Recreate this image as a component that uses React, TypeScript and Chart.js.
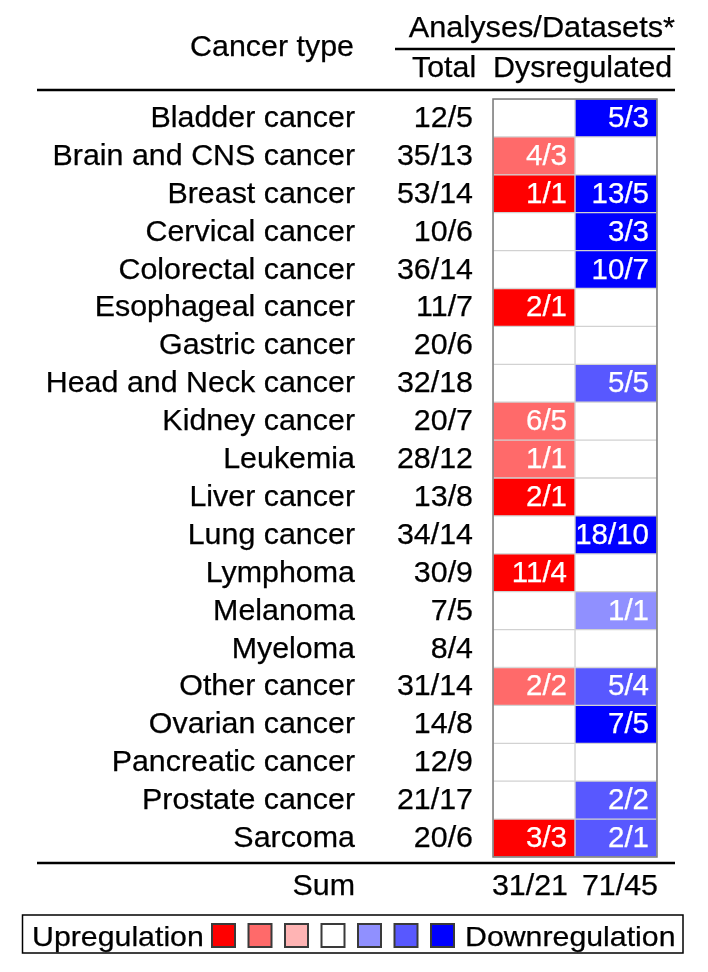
import React, { useEffect, useRef } from "react";
import { Chart, registerables } from "chart.js";

Chart.register(...registerables);

const cancerTypes = [
  "Bladder cancer",
  "Brain and CNS cancer",
  "Breast cancer",
  "Cervical cancer",
  "Colorectal cancer",
  "Esophageal cancer",
  "Gastric cancer",
  "Head and Neck cancer",
  "Kidney cancer",
  "Leukemia",
  "Liver cancer",
  "Lung cancer",
  "Lymphoma",
  "Melanoma",
  "Myeloma",
  "Other cancer",
  "Ovarian cancer",
  "Pancreatic cancer",
  "Prostate cancer",
  "Sarcoma",
];

const totals = [
  "12/5", "35/13", "53/14", "10/6", "36/14", "11/7", "20/6", "32/18", "20/7", "28/12",
  "13/8", "34/14", "30/9", "7/5", "8/4", "31/14", "14/8", "12/9", "21/17", "20/6",
];

const upLabels = [
  "", "4/3", "1/1", "", "", "2/1", "", "", "6/5", "1/1",
  "2/1", "", "11/4", "", "", "2/2", "", "", "", "3/3",
];
const upLevels = [0, 2, 3, 0, 0, 3, 0, 0, 2, 2, 3, 0, 3, 0, 0, 2, 0, 0, 0, 3];

const downLabels = [
  "5/3", "", "13/5", "3/3", "10/7", "", "", "5/5", "", "",
  "", "18/10", "", "1/1", "", "5/4", "7/5", "", "2/2", "2/1",
];
const downLevels = [3, 0, 3, 3, 3, 0, 0, 2, 0, 0, 0, 3, 0, 1, 0, 2, 3, 0, 2, 2];

const columnCells = [1, 1]; // each column occupies one unit
const sumLabels = ["31/21", "71/45"];

const upColors = ["#ffffff", "#ffb4b4", "#ff6a6a", "#ff0000"];
const downColors = ["#ffffff", "#9090ff", "#5858ff", "#0000ff"];
const legendColors = ["#ff0000", "#ff6a6a", "#ffb4b4", "#ffffff", "#9090ff", "#5858ff", "#0000ff"];

const FONT = '"Liberation Sans", Arial, Helvetica, sans-serif';

const tablePlugin = {
  id: "tableText",
  afterDatasetsDraw(chart: any) {
    const { ctx, chartArea: ca, scales } = chart;
    const ys = scales.y;
    const xs = scales.x;

    const txt = (
      s: string,
      x: number,
      yb: number,
      size: number,
      align: CanvasTextAlign,
      color = "#000",
      wEq = 30.4
    ) => {
      ctx.save();
      ctx.font = `${size}px ${FONT}`;
      ctx.fillStyle = color;
      ctx.strokeStyle = color;
      ctx.lineWidth = 0.25;
      ctx.textAlign = align;
      ctx.textBaseline = "alphabetic";
      ctx.translate(x, yb);
      ctx.scale(wEq / size, 1);
      ctx.fillText(s, 0, 0);
      ctx.strokeText(s, 0, 0);
      ctx.restore();
    };

    const hline = (x1: number, x2: number, y: number, w = 2.5) => {
      ctx.save();
      ctx.strokeStyle = "#000";
      ctx.lineWidth = w;
      ctx.beginPath();
      ctx.moveTo(x1, y);
      ctx.lineTo(x2, y);
      ctx.stroke();
      ctx.restore();
    };

    // outer border of heatmap
    ctx.save();
    ctx.strokeStyle = "#7a7a7a";
    ctx.lineWidth = 1.5;
    ctx.strokeRect(ca.left, ca.top, ca.right - ca.left, ca.bottom - ca.top);
    ctx.restore();

    const FS = 29;

    // cell labels
    chart.data.datasets.forEach((ds: any, di: number) => {
      const meta = chart.getDatasetMeta(di);
      meta.data.forEach((bar: any, i: number) => {
        const s = ds.cellLabels[i];
        if (!s) return;
        const p = bar.getProps(["x", "y", "base"], true);
        txt(s, Math.max(p.x, p.base) - 8, p.y + 9, FS, "right", "#ffffff", 29.5);
      });
    });

    // row names and totals
    const nameRight = 355;
    const totalRight = 473;
    cancerTypes.forEach((name, i) => {
      const yc = ys.getPixelForValue(i);
      txt(name, nameRight, yc + 9, FS, "right");
      txt(totals[i], totalRight, yc + 9, FS, "right");
    });

    // header
    const lineLeft = 37;
    const lineRight = 675;
    txt("Analyses/Datasets*", lineRight, ca.top - 62, 29, "right", "#000", 30.7);
    hline(395, lineRight, ca.top - 50);
    txt("Cancer type", 354, ca.top - 43, FS, "right");
    txt("Total  Dysregulated", 412, ca.top - 22, FS, "left");
    hline(lineLeft, lineRight, ca.top - 9);

    // bottom line and sums
    hline(lineLeft, lineRight, ca.bottom + 6);
    txt("Sum", nameRight, ca.bottom + 38, FS, "right");
    txt(sumLabels[0], xs.getPixelForValue(1) - 7, ca.bottom + 38, FS, "right");
    txt(sumLabels[1], xs.getPixelForValue(2) + 1, ca.bottom + 38, FS, "right");

    // legend
    const lgTop = 915;
    ctx.save();
    ctx.strokeStyle = "#000";
    ctx.lineWidth = 1.5;
    ctx.strokeRect(22.5, lgTop, 660.5, 38);
    ctx.restore();
    txt("Upregulation", 32, lgTop + 31, 28, "left", "#000", 30.3);
    legendColors.forEach((c, k) => {
      const sx = 212 + k * 36.5;
      ctx.save();
      ctx.fillStyle = c;
      ctx.fillRect(sx, lgTop + 9, 23, 23);
      ctx.strokeStyle = "#3a3a3a";
      ctx.lineWidth = 2;
      ctx.strokeRect(sx, lgTop + 9, 23, 23);
      ctx.restore();
    });
    txt("Downregulation", 465, lgTop + 31, 28, "left", "#000", 30.3);
  },
};

export default function App() {
  const ref = useRef<HTMLCanvasElement | null>(null);

  useEffect(() => {
    if (!ref.current) return;
    const chart = new Chart(ref.current, {
      type: "bar",
      data: {
        labels: cancerTypes,
        datasets: [
          {
            label: "Upregulation",
            data: cancerTypes.map(() => columnCells[0]),
            backgroundColor: upLevels.map((l) => upColors[l]),
            borderColor: "#d2d2d2",
            borderWidth: 1,
            borderSkipped: false,
            barPercentage: 1,
            categoryPercentage: 1,
            cellLabels: upLabels,
          } as any,
          {
            label: "Downregulation",
            data: cancerTypes.map(() => columnCells[1]),
            backgroundColor: downLevels.map((l) => downColors[l]),
            borderColor: "#d2d2d2",
            borderWidth: 1,
            borderSkipped: false,
            barPercentage: 1,
            categoryPercentage: 1,
            cellLabels: downLabels,
          } as any,
        ],
      },
      options: {
        animation: false,
        responsive: false,
        indexAxis: "y",
        layout: { padding: { left: 493, right: 51, top: 99, bottom: 115 } },
        plugins: { legend: { display: false }, tooltip: { enabled: false } },
        scales: {
          x: { stacked: true, min: 0, max: 2, display: false },
          y: { stacked: true, display: false },
        },
      },
      plugins: [tablePlugin],
    });
    return () => chart.destroy();
  }, []);

  return (
    <div style={{ position: "absolute", left: 0, top: 0, width: 708, height: 972, background: "#fff" }}>
      <canvas ref={ref} width={708} height={972} style={{ display: "block" }} />
    </div>
  );
}
